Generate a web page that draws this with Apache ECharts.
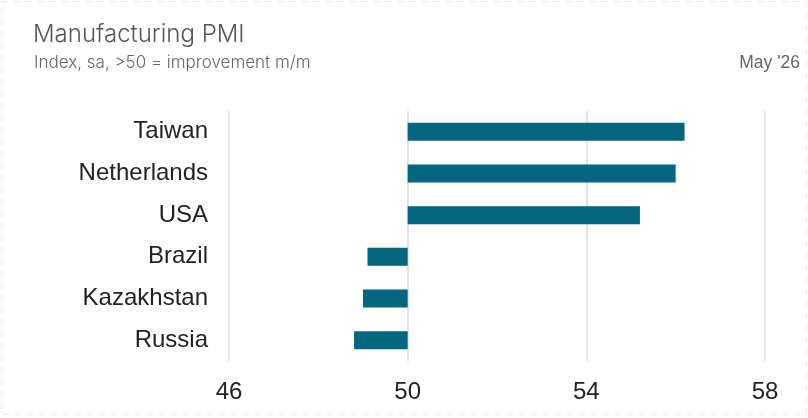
<!DOCTYPE html>
<html>
<head>
<meta charset="utf-8">
<script src="https://cdn.jsdelivr.net/npm/echarts@6/dist/echarts.min.js"></script>
<style>
html,body{margin:0;padding:0;background:#fff;}
#chart{width:808px;height:418px;}
</style>
</head>
<body>
<div id="chart"></div>
<script>
const countries = ['Taiwan', 'Netherlands', 'USA', 'Brazil', 'Kazakhstan', 'Russia'];
const pmiValues = [56.2, 56.0, 55.2, 49.1, 49.0, 48.8];
const baseline = 50;
const xTicks = [46, 50, 54, 58];

const chart = echarts.init(document.getElementById('chart'), null, {renderer: 'canvas'});
chart.setOption({
  backgroundColor: '#ffffff',
  animation: false,
  title: [
    {
      text: 'Manufacturing PMI',
      left: 28, top: 18,
      textStyle: {fontFamily: 'Inter, Lato, sans-serif', fontSize: 24, fontWeight: 300, color: '#555555'}
    },
    {
      text: 'Index, sa, >50 = improvement m/m',
      left: 29, top: 49,
      textStyle: {fontFamily: 'Inter, Lato, sans-serif', fontSize: 17, fontWeight: 300, color: '#666666'}
    },
    {
      text: "May '26",
      right: 3, top: 49,
      textStyle: {fontFamily: 'Liberation Sans, Arial, sans-serif', fontSize: 17.5, fontWeight: 'normal', color: '#666666'}
    }
  ],
  graphic: [{
    type: 'rect',
    shape: {x: 1.5, y: 1.5, width: 805, height: 413},
    style: {fill: 'none', stroke: '#e8e8e8', lineWidth: 1, lineDash: [6, 6]},
    silent: true
  }],
  grid: {left: 229, right: 43, top: 111, height: 250, containLabel: false},
  xAxis: {
    type: 'value',
    min: xTicks[0], max: xTicks[xTicks.length - 1], interval: 4,
    axisLine: {show: false},
    axisTick: {show: false},
    splitLine: {show: true, lineStyle: {color: '#d9d9d9', width: 1.5}},
    axisLabel: {
      margin: 19,
      fontFamily: 'Liberation Sans, Arial, sans-serif', fontSize: 24, color: '#222222'
    }
  },
  yAxis: {
    type: 'category',
    data: countries,
    inverse: true,
    axisLine: {show: false},
    axisTick: {show: false},
    axisLabel: {
      margin: 21,
      fontFamily: 'Liberation Sans, Arial, sans-serif', fontSize: 24, color: '#222222'
    }
  },
  series: [
    {
      type: 'bar',
      stack: 'pmi',
      silent: true,
      data: pmiValues.map(v => v >= baseline ? baseline : v),
      itemStyle: {color: 'rgba(0,0,0,0)'},
      barWidth: 18
    },
    {
      type: 'bar',
      stack: 'pmi',
      data: pmiValues.map(v => Math.abs(v - baseline)),
      itemStyle: {color: '#05677f'},
      barWidth: 18
    }
  ]
});
</script>
</body>
</html>
